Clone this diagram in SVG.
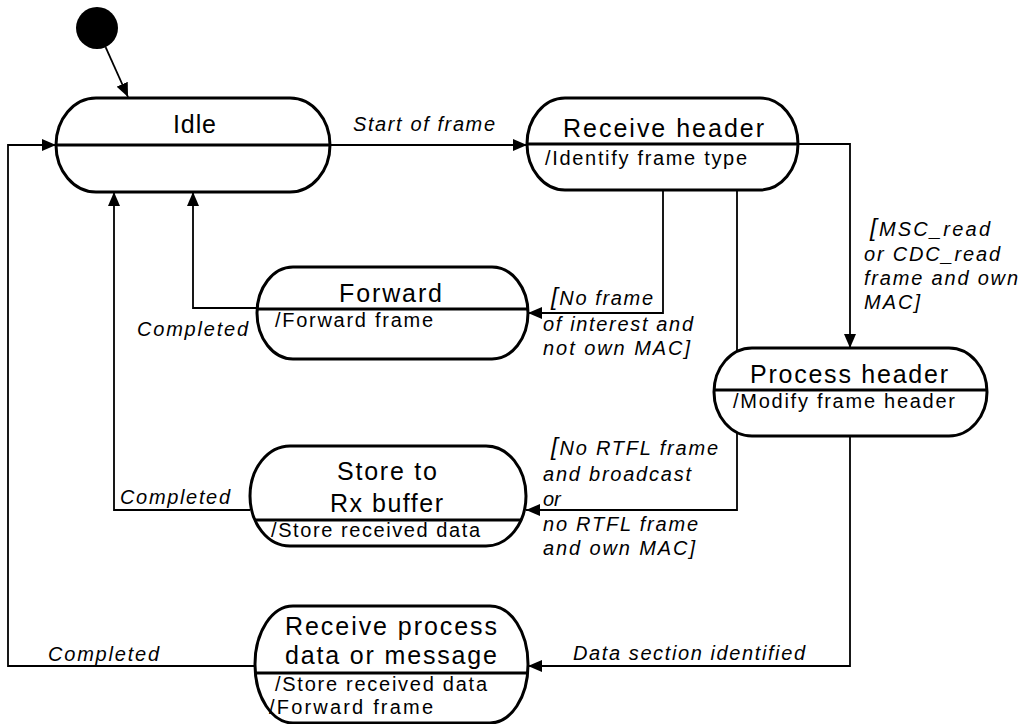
<svg xmlns="http://www.w3.org/2000/svg" width="1021" height="724" viewBox="0 0 1021 724">
<style>
text{font-family:"Liberation Sans",Arial,Helvetica,sans-serif;fill:#000}
.title{font-size:25px}
.act{font-size:20px}
.lbl{font-size:20px;font-style:italic}
.br{font-size:24px}
.node{fill:#fff;stroke:#000;stroke-width:3}
.div{stroke:#000;stroke-width:3}
.conn{fill:none;stroke:#000;stroke-width:1.8;marker-end:url(#arr)}
</style>
<defs>
<marker id="arr" markerWidth="14" markerHeight="12" refX="14" refY="6" orient="auto" markerUnits="userSpaceOnUse">
<path d="M0,0 L14,6 L0,12 z" fill="#000"/>
</marker>
</defs>
<g id="connectors">
<path class="conn" d="M105.6,47.2 L128,97"/>
<path class="conn" d="M330,145 L527,145"/>
<path class="conn" d="M798,144 L850,144 L850,348"/>
<path class="conn" d="M663,190 L663,313 L528,313"/>
<path class="conn" d="M737,190 L737,510 L526,510"/>
<path class="conn" d="M257,308 L193,308 L193,192"/>
<path class="conn" d="M250,510 L114,510 L114,192"/>
<path class="conn" d="M850,436 L850,666 L528,666"/>
<path class="conn" d="M256,666 L8,666 L8,145 L56,145"/>
</g>
<g id="labels">
<text class="lbl" x="353" y="131" textLength="142" lengthAdjust="spacing">Start of frame</text>
<text class="lbl" x="870" y="236" textLength="120" lengthAdjust="spacing"><tspan class="br">[</tspan>MSC_read</text>
<text class="lbl" x="864" y="261" textLength="136" lengthAdjust="spacing">or CDC_read</text>
<text class="lbl" x="864" y="285" textLength="154" lengthAdjust="spacing">frame and own</text>
<text class="lbl" x="864" y="309" textLength="56" lengthAdjust="spacing">MAC]</text>
<text class="lbl" x="551" y="305" textLength="102" lengthAdjust="spacing"><tspan class="br">[</tspan>No frame</text>
<text class="lbl" x="543" y="331" textLength="150" lengthAdjust="spacing">of interest and</text>
<text class="lbl" x="543" y="355" textLength="147" lengthAdjust="spacing">not own MAC]</text>
<text class="lbl" x="137" y="336" textLength="111" lengthAdjust="spacing">Completed</text>
<text class="lbl" x="120" y="504" textLength="110" lengthAdjust="spacing">Completed</text>
<text class="lbl" x="551" y="455" textLength="167" lengthAdjust="spacing"><tspan class="br">[</tspan>No RTFL frame</text>
<text class="lbl" x="543" y="481" textLength="148" lengthAdjust="spacing">and broadcast</text>
<text class="lbl" x="543" y="506">or</text>
<text class="lbl" x="543" y="531" textLength="155" lengthAdjust="spacing">no RTFL frame</text>
<text class="lbl" x="543" y="555" textLength="152" lengthAdjust="spacing">and own MAC]</text>
<text class="lbl" x="573" y="660" textLength="232" lengthAdjust="spacing">Data section identified</text>
<text class="lbl" x="48" y="661" textLength="111" lengthAdjust="spacing">Completed</text>
</g>
<g id="initial">
<circle cx="97" cy="28" r="21" fill="#000"/>
</g>
<g id="idle">
<rect class="node" x="56" y="98" width="274" height="94" rx="40" ry="47"/>
<line class="div" x1="56" y1="145" x2="330" y2="145"/>
<text class="title" x="173" y="133" textLength="43" lengthAdjust="spacing">Idle</text>
</g>
<g id="receive-header">
<rect class="node" x="527" y="98" width="271" height="92" rx="38" ry="46"/>
<line class="div" x1="527" y1="144" x2="798" y2="144"/>
<text class="title" x="563" y="137" textLength="201" lengthAdjust="spacing">Receive header</text>
<text class="act" x="545" y="165" textLength="202" lengthAdjust="spacing">/Identify frame type</text>
</g>
<g id="process-header">
<rect class="node" x="714" y="348" width="273" height="88" rx="38" ry="44"/>
<line class="div" x1="714" y1="390" x2="987" y2="390"/>
<text class="title" x="750" y="383" textLength="198" lengthAdjust="spacing">Process header</text>
<text class="act" x="733" y="408" textLength="222" lengthAdjust="spacing">/Modify frame header</text>
</g>
<g id="forward">
<rect class="node" x="257" y="267" width="271" height="92" rx="36" ry="46"/>
<line class="div" x1="257" y1="309" x2="528" y2="309"/>
<text class="title" x="339" y="302" textLength="103" lengthAdjust="spacing">Forward</text>
<text class="act" x="275" y="327" textLength="158" lengthAdjust="spacing">/Forward frame</text>
</g>
<g id="store-rx">
<rect class="node" x="250" y="446" width="276" height="100" rx="40" ry="50"/>
<line class="div" x1="254.5" y1="520" x2="521.5" y2="520"/>
<text class="title" x="337" y="480" textLength="100" lengthAdjust="spacing">Store to</text>
<text class="title" x="330" y="512" textLength="113" lengthAdjust="spacing">Rx buffer</text>
<text class="act" x="271" y="537" textLength="209" lengthAdjust="spacing">/Store received data</text>
</g>
<g id="receive-process">
<rect class="node" x="255" y="606" width="273" height="117" rx="38" ry="58"/>
<line class="div" x1="255.5" y1="673" x2="527.5" y2="673"/>
<text class="title" x="285" y="635" textLength="212" lengthAdjust="spacing">Receive process</text>
<text class="title" x="285" y="664" textLength="212" lengthAdjust="spacing">data or message</text>
<text class="act" x="275" y="691" textLength="212" lengthAdjust="spacing">/Store received data</text>
<text class="act" x="269" y="714" textLength="164" lengthAdjust="spacing">/Forward frame</text>
</g>
</svg>
